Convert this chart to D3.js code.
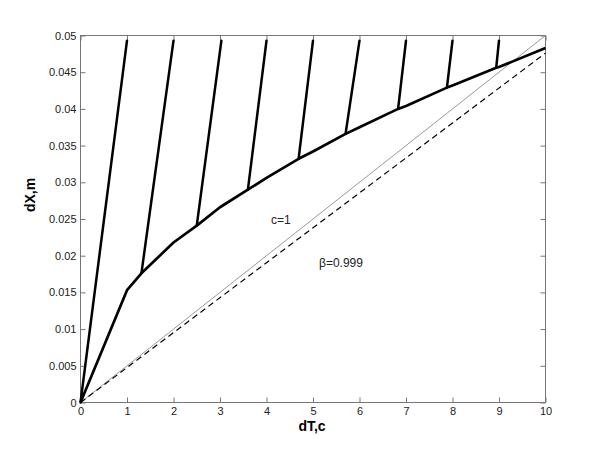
<!DOCTYPE html>
<html><head><meta charset="utf-8">
<script src="https://cdn.jsdelivr.net/npm/d3@7"></script>
<style>body{margin:0;background:#fff}svg{display:block}text{font-family:"Liberation Sans",Arial,sans-serif}</style>
</head><body>
<svg id="c" width="604" height="454"></svg>
<script>
// Data
const curveX = [0, 1, 1.31, 2, 2.5, 3, 3.6, 4, 4.69, 5, 5.7, 6, 6.83, 7, 7.88, 8, 8.94, 9, 10];
const curveY = [0, 0.0153, 0.0176, 0.0218, 0.0241, 0.0266, 0.0290, 0.0306, 0.0332, 0.0342, 0.0366, 0.0375, 0.0400, 0.0404, 0.0429, 0.0432, 0.0456, 0.0457, 0.0483];
const slantTopX = [1, 2, 3.03, 4, 5, 6, 7, 8, 9];
const slantTopY = [0.0493, 0.0493, 0.0493, 0.0493, 0.0493, 0.0493, 0.0493, 0.0493, 0.0493];
const slantBotX = [0, 1.31, 2.5, 3.6, 4.69, 5.7, 6.83, 7.88, 8.94];
const slantBotY = [0, 0.0176, 0.0241, 0.0290, 0.0332, 0.0366, 0.0400, 0.0429, 0.0456];
const lightX = [0, 10], lightY = [0, 0.05];      // c=1
const betaX = [0, 10], betaY = [0, 0.0476];      // beta=0.999
const xTicks = [0,1,2,3,4,5,6,7,8,9,10];
const yTicks = [0,0.005,0.01,0.015,0.02,0.025,0.03,0.035,0.04,0.045,0.05];
const yTickLabels = ["0","0.005","0.01","0.015","0.02","0.025","0.03","0.035","0.04","0.045","0.05"];

const svg = d3.select("#c");
const L = 80.5, R = 545.5, T = 35.5, B = 402.5;
const x = d3.scaleLinear().domain([0, 10]).range([L, R]);
const y = d3.scaleLinear().domain([0, 0.05]).range([B, T]);
const line = d3.line().x(d => x(d[0])).y(d => y(d[1]));
const axisColor = "#777";

// box
svg.append("rect").attr("x", L).attr("y", T).attr("width", R - L).attr("height", B - T)
  .attr("fill", "none").attr("stroke", axisColor).attr("stroke-width", 1);

// axes (ticks inside)
const gx = svg.append("g").attr("transform", `translate(0,${B})`)
  .call(d3.axisBottom(x).tickValues(xTicks).tickSize(-5).tickPadding(5).tickFormat(d3.format("d")));
const gxt = svg.append("g").attr("transform", `translate(0,${T})`)
  .call(d3.axisTop(x).tickValues(xTicks).tickSize(-5).tickFormat(""));
const gy = svg.append("g").attr("transform", `translate(${L},0)`)
  .call(d3.axisLeft(y).tickValues(yTicks).tickSize(-5).tickPadding(4).tickFormat((d, i) => yTickLabels[i]));
const gyr = svg.append("g").attr("transform", `translate(${R},0)`)
  .call(d3.axisRight(y).tickValues(yTicks).tickSize(-5).tickFormat(""));
[gx, gxt, gy, gyr].forEach(g => {
  g.select(".domain").remove();
  g.selectAll(".tick line").attr("stroke", axisColor);
  g.selectAll(".tick text").attr("fill", "#222").style("font-size", "11px")
    .style("font-family", '"Liberation Sans",Arial,sans-serif');
});

// reference lines
svg.append("path").datum(lightX.map((v, i) => [v, lightY[i]])).attr("d", line)
  .attr("fill", "none").attr("stroke", "#999").attr("stroke-width", 1);
svg.append("path").datum(betaX.map((v, i) => [v, betaY[i]])).attr("d", line)
  .attr("fill", "none").attr("stroke", "#000").attr("stroke-width", 1.2).attr("stroke-dasharray", "6,4");

// slanted world lines
slantTopX.forEach((v, i) => {
  svg.append("path").datum([[slantBotX[i], slantBotY[i]], [v, slantTopY[i]]]).attr("d", line)
    .attr("fill", "none").attr("stroke", "#000").attr("stroke-width", 2.5).attr("stroke-linecap", "round");
});

// main curve
svg.append("path").datum(curveX.map((v, i) => [v, curveY[i]])).attr("d", line)
  .attr("fill", "none").attr("stroke", "#000").attr("stroke-width", 2.7).attr("stroke-linejoin", "round");

// annotations
svg.append("text").attr("x", 271).attr("y", 224).attr("fill", "#222").style("font-size", "12px").text("c=1");
svg.append("text").attr("x", 319).attr("y", 267).attr("fill", "#222").style("font-size", "12px").text("β=0.999");

// axis labels
svg.append("text").attr("x", x(5) - 1).attr("y", 431).attr("text-anchor", "middle")
  .style("font-size", "14px").style("font-weight", "bold").text("dT,c");
svg.append("text").attr("transform", "translate(35,195) rotate(-90)").attr("text-anchor", "middle")
  .style("font-size", "14px").style("font-weight", "bold").text("dX,m");
</script>
</body></html>
